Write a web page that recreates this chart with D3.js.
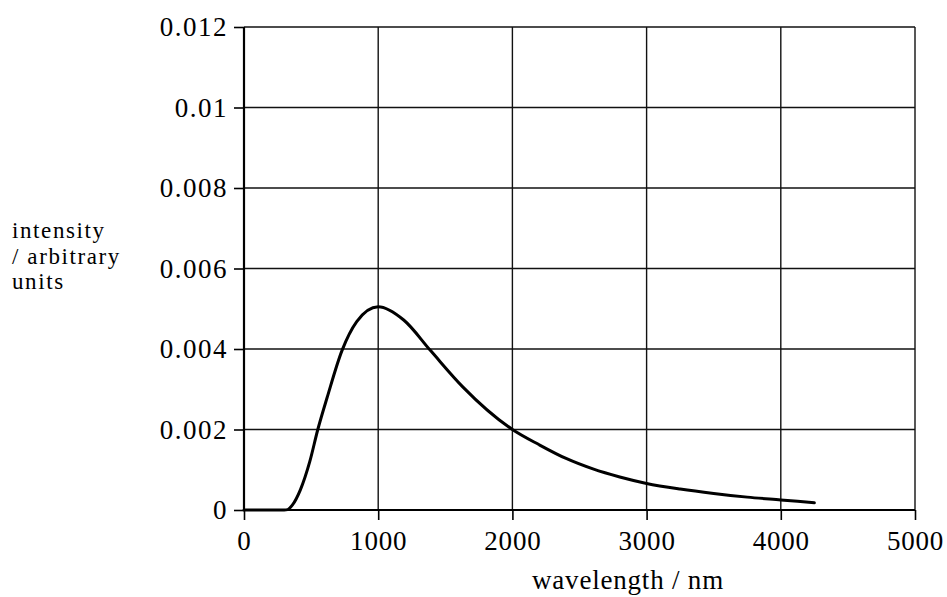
<!DOCTYPE html>
<html lang="en">
<head>
<meta charset="utf-8" />
<script src="https://d3js.org/d3.v7.min.js"></script>
<style>
  html, body { margin: 0; padding: 0; background: #fff; }
  svg { display: block; }
  svg text { font-family: "Liberation Serif", "Times New Roman", Times, serif; fill: #000; }
</style>
</head>
<body>
<svg id="canvas" width="947" height="597"></svg>
<script>
// values
var wavelength = [0, 300, 325, 360, 420, 490, 550, 620, 730, 840, 1000, 1190, 1390, 1630, 2000, 2200, 2400, 2600, 2800, 3000, 3250, 3500, 3750, 4000, 4250];
var intensity  = [0, 0, 0.00001, 0.00012, 0.0005, 0.0012, 0.002, 0.0028, 0.00396, 0.00468, 0.00505, 0.00472, 0.00396, 0.00306, 0.002, 0.00162, 0.00128, 0.00102, 0.00082, 0.00066, 0.00052, 0.00041, 0.00032, 0.00025, 0.00018];
var xTicks = [0, 1000, 2000, 3000, 4000, 5000];
var yTicks = [0, 0.002, 0.004, 0.006, 0.008, 0.01, 0.012];
var yLabels = ["0", "0.002", "0.004", "0.006", "0.008", "0.01", "0.012"];
var yTitle = ["intensity", "/ arbitrary", "units"];
var xTitle = "wavelength / nm";

var svg = d3.select("#canvas");

var x = d3.scaleLinear().domain([0, 5000]).range([244, 915]);
var y = d3.scaleLinear().domain([0, 0.012]).range([510, 27]);

// grid
var grid = svg.append("g").attr("stroke", "#111").attr("stroke-width", 1.4);
grid.selectAll("line.v").data(xTicks).enter().append("line")
  .attr("x1", d => x(d)).attr("x2", d => x(d))
  .attr("y1", y(0.012)).attr("y2", y(0));
grid.selectAll("line.h").data(yTicks).enter().append("line")
  .attr("y1", d => y(d)).attr("y2", d => y(d))
  .attr("x1", x(0)).attr("x2", x(5000));

// axes
var xAxis = d3.axisBottom(x).tickValues(xTicks).tickSize(10).tickPadding(6).tickFormat(d3.format("d"));
var yAxis = d3.axisLeft(y).tickValues(yTicks).tickSize(10).tickPadding(6).tickFormat((d, i) => yLabels[i]);

var gx = svg.append("g").attr("transform", "translate(0," + y(0) + ")").call(xAxis);
var gy = svg.append("g").attr("transform", "translate(" + x(0) + ",0)").call(yAxis);

[gx, gy].forEach(function (g) {
  g.attr("font-family", null).attr("font-size", null);
  g.select(".domain").remove();
  g.selectAll(".tick line").attr("stroke", "#000").attr("stroke-width", 1.6);
  g.selectAll(".tick text").style("font-size", "27px").attr("letter-spacing", 0.8);
});
gy.selectAll(".tick text").attr("letter-spacing", 1.5);
gx.selectAll(".tick text").attr("dy", "0.88em");

svg.append("line").attr("stroke", "#000").attr("stroke-width", 2.2)
  .attr("x1", x(0)).attr("x2", x(5000)).attr("y1", y(0)).attr("y2", y(0));
svg.append("line").attr("stroke", "#000").attr("stroke-width", 2.2)
  .attr("x1", x(0)).attr("x2", x(0)).attr("y1", y(0)).attr("y2", y(0.012));

// curve
var pts = wavelength.map((w, i) => [w, intensity[i]]);
var line = d3.line().x(d => x(d[0])).y(d => y(d[1])).curve(d3.curveMonotoneX);
svg.append("path").datum(pts)
  .attr("fill", "none").attr("stroke", "#000").attr("stroke-width", 3)
  .attr("stroke-linejoin", "round").attr("stroke-linecap", "round")
  .attr("d", line);

// titles
svg.append("g").selectAll("text").data(yTitle).enter().append("text")
  .attr("x", 12).attr("y", (d, i) => 238 + i * 25.5)
  .style("font-size", "23px").attr("letter-spacing", 1.6)
  .text(d => d);

svg.append("text")
  .attr("x", 628).attr("y", 589).attr("text-anchor", "middle")
  .style("font-size", "27px").attr("letter-spacing", 0.8)
  .text(xTitle);
</script>
</body>
</html>
